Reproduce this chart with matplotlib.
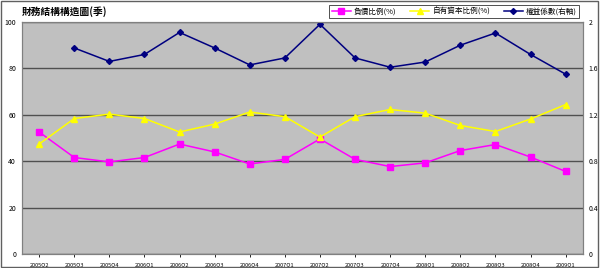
import matplotlib
matplotlib.use("Agg")
import matplotlib.pyplot as plt
from matplotlib.patches import Rectangle

plt.rcParams['font.family'] = ['Noto Sans CJK TC', 'DejaVu Sans']

quarters = ["2005Q2", "2005Q3", "2005Q4", "2006Q1", "2006Q2", "2006Q3", "2006Q4", "2007Q1",
            "2007Q2", "2007Q3", "2007Q4", "2008Q1", "2008Q2", "2008Q3", "2008Q4", "2009Q1"]
debt_ratio = [52.6, 41.6, 39.7, 41.6, 47.4, 44.0, 38.8, 40.8,
              49.6, 40.8, 37.7, 39.3, 44.6, 47.2, 41.8, 35.6]
equity_ratio = [47.4, 58.4, 60.3, 58.4, 52.6, 56.0, 61.2, 59.2,
                50.4, 59.2, 62.3, 60.7, 55.4, 52.8, 58.2, 64.4]
equity_multiplier = [None, 1.776, 1.66, 1.72, 1.91, 1.776, 1.63, 1.69,
                     1.98, 1.69, 1.61, 1.655, 1.80, 1.905, 1.72, 1.55]

labels = ["負債比例(%)", "自有資本比例(%)", "權益係數(右軸)"]
title = "財務結構構造圖(季)"

fig = plt.figure(figsize=(6.0, 2.68), dpi=100)
fig.patch.set_facecolor("white")
ax = fig.add_axes([0.036, 0.052, 0.936, 0.866])
ax.set_facecolor("#c0c0c0")
x = list(range(len(quarters)))
ax.set_xlim(-0.5, len(quarters) - 0.5)
ax.set_ylim(0, 100)
ax.set_yticks([0, 20, 40, 60, 80, 100])
ax.yaxis.grid(True, color="#505050", linewidth=1.0)
ax.set_axisbelow(True)
l1, = ax.plot(x, debt_ratio, color="#ff00ff", marker="s", markersize=4, linewidth=1.1)
l2, = ax.plot(x, equity_ratio, color="#ffff00", marker="^", markersize=4, linewidth=1.1)
ax.set_xticks(x)
ax.set_xticklabels(quarters, fontsize=4)
ax.tick_params(axis="y", labelsize=5, length=0, pad=4)
ax.tick_params(axis="x", length=2, width=0.6, pad=4)
for s in ax.spines.values():
    s.set_color("#808080")
    s.set_linewidth(0.8)

ax2 = ax.twinx()
xm = [i for i, v in zip(x, equity_multiplier) if v is not None]
ym = [v for v in equity_multiplier if v is not None]
l3, = ax2.plot(xm, ym, color="#000080", marker="D", markersize=3, linewidth=1.1)
ax2.set_ylim(0, 2)
ax2.set_yticks([0, 0.4, 0.8, 1.2, 1.6, 2])
ax2.set_yticklabels(["0", "0.4", "0.8", "1.2", "1.6", "2"])
ax2.tick_params(axis="y", labelsize=5, length=0, pad=4)
for s in ax2.spines.values():
    s.set_color("#808080")
    s.set_linewidth(0.8)

fig.text(0.037, 0.955, title, fontsize=7, fontweight="bold", ha="left", va="center")
leg = fig.legend([l1, l2, l3], labels, loc="upper right", bbox_to_anchor=(0.972, 0.995),
                 ncol=3, fontsize=5.5, frameon=True, fancybox=False, edgecolor="black",
                 handlelength=2.5, columnspacing=1.8, borderpad=0.3, handletextpad=0.4)
leg.get_frame().set_linewidth(0.6)

fig.add_artist(Rectangle((0.002, 0.004), 0.995, 0.992, transform=fig.transFigure,
                         fill=False, edgecolor="#606060", linewidth=1.0))

fig.savefig("out.png", dpi=100)
